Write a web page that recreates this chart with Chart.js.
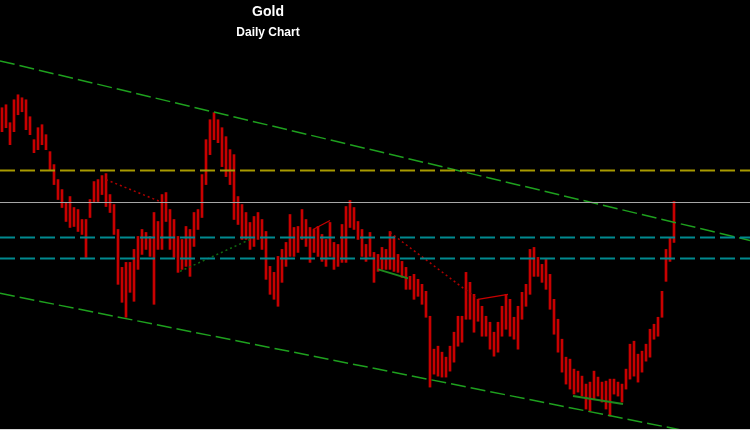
<!DOCTYPE html>
<html>
<head>
<meta charset="utf-8">
<script src="https://cdn.jsdelivr.net/npm/chart.js@4.4.1/dist/chart.umd.min.js"></script>
<style>
  html, body { margin: 0; padding: 0; background: #d9d9d9; }
  .wrap { position: relative; width: 750px; height: 429px; background: #000; }
  .title {
    position: absolute; left: 0; width: 536px; text-align: center;
    color: #fff; font-family: "Liberation Sans", Arial, sans-serif; font-weight: bold;
  }
  #t1 { top: 3px; font-size: 14px; }
  #t2 { top: 25px; font-size: 12px; }
</style>
</head>
<body>
<div class="wrap">
  <canvas id="chart" width="750" height="429"></canvas>
  <div class="title" id="t1">Gold</div>
  <div class="title" id="t2">Daily Chart</div>
</div>
<script>
// daily high / low per session
const highs = [
  1422, 1425, 1407, 1430, 1435, 1432, 1430, 1413, 1390, 1402,
  1405, 1395, 1378, 1365, 1350, 1340, 1327, 1333, 1322, 1320,
  1310, 1310, 1330, 1348, 1350, 1354, 1356, 1335, 1325, 1300,
  1262, 1267, 1267, 1280, 1293, 1300, 1297, 1293, 1317, 1308,
  1335, 1337, 1320, 1310, 1293, 1290, 1303, 1300, 1317, 1320,
  1355, 1390, 1410, 1417, 1410, 1402, 1393, 1380, 1375, 1333,
  1325, 1317, 1307, 1313, 1317, 1310, 1298, 1263, 1257, 1273,
  1280, 1287, 1315, 1302, 1303, 1320, 1310, 1302, 1300, 1303,
  1295, 1290, 1307, 1287, 1285, 1305, 1323, 1329, 1322, 1308,
  1300, 1285, 1297, 1277, 1275, 1282, 1280, 1298, 1293, 1275,
  1268, 1262, 1253, 1255, 1250, 1245, 1238, 1213, 1180, 1183,
  1177, 1172, 1183, 1197, 1213, 1213, 1257, 1247, 1235, 1230,
  1223, 1213, 1207, 1197, 1207, 1223, 1235, 1230, 1212, 1223,
  1237, 1245, 1280, 1282, 1272, 1265, 1270, 1255, 1230, 1210,
  1190, 1172, 1170, 1160, 1158, 1153, 1145, 1147, 1158, 1152,
  1147, 1148, 1150, 1150, 1147, 1145, 1160, 1185, 1188, 1175,
  1178, 1185, 1200, 1205, 1212, 1238, 1280, 1292, 1328,
];
const lows = [
  1398, 1402, 1385, 1398, 1415, 1418, 1400, 1395, 1377, 1380,
  1385, 1380, 1360, 1345, 1330, 1322, 1308, 1302, 1303, 1298,
  1295, 1272, 1312, 1327, 1328, 1335, 1323, 1317, 1295, 1245,
  1227, 1212, 1237, 1228, 1260, 1275, 1280, 1273, 1225, 1280,
  1280, 1308, 1280, 1272, 1257, 1260, 1263, 1253, 1283, 1300,
  1312, 1345, 1375, 1390, 1387, 1363, 1353, 1345, 1310, 1305,
  1290, 1290, 1280, 1283, 1290, 1280, 1250, 1235, 1230, 1223,
  1247, 1263, 1273, 1273, 1277, 1290, 1283, 1267, 1277, 1273,
  1268, 1263, 1273, 1260, 1263, 1267, 1267, 1302, 1300, 1290,
  1273, 1268, 1273, 1247, 1258, 1260, 1260, 1260, 1258, 1257,
  1252, 1240, 1240, 1230, 1233, 1225, 1212, 1142, 1155, 1153,
  1152, 1152, 1158, 1167, 1183, 1187, 1210, 1210, 1197, 1208,
  1193, 1193, 1180, 1173, 1177, 1193, 1200, 1193, 1190, 1180,
  1210, 1223, 1235, 1253, 1253, 1247, 1240, 1220, 1195, 1177,
  1157, 1145, 1140, 1135, 1137, 1133, 1120, 1118, 1130, 1133,
  1127, 1120, 1113, 1135, 1133, 1127, 1140, 1150, 1153, 1147,
  1157, 1168, 1172, 1190, 1193, 1212, 1248, 1268, 1287,
];

// horizontal price levels
const resistance = 1359;
const lastHigh = 1327;
const supports = [1292, 1271];

// drawn lines: [startDay, startPrice, endDay, endPrice]
const channelTop = [-0.5, 1469, 187, 1289];
const channelBottom = [-0.5, 1236, 176, 1094];
const redDotted = [[26, 1350, 39.5, 1328], [97, 1297, 119, 1230]];
const redSolid = [[77.75, 1300, 82, 1309], [119, 1230, 126.5, 1235]];
const greenDotted = [[44.5, 1258, 62, 1290]];
const greenSolid = [[94, 1260, 101.5, 1251], [142.75, 1133, 155.25, 1125]];

const X_MIN = -0.5;
const X_MAX = 187;

function segment(points, color, dash, width) {
  return {
    type: "line",
    data: [{ x: points[0], y: points[1] }, { x: points[2], y: points[3] }],
    borderColor: color,
    borderWidth: width,
    borderDash: dash,
    pointRadius: 0,
    order: 1,
  };
}

function level(price, color, dash, width) {
  return segment([X_MIN, price, X_MAX, price], color, dash, width);
}

const bars = highs.map((high, i) => ({ x: i, y: [lows[i], high] }));

const datasets = [
  {
    type: "bar",
    data: bars,
    backgroundColor: "#c80000",
    barThickness: 2,
    order: 2,
  },
  level(resistance, "#a89a00", [15, 5], 2),
  level(lastHigh, "#a8a8a8", [], 1),
  ...supports.map((p) => level(p, "#008a8f", [15, 5], 2)),
  segment(channelTop, "#1ea01e", [15, 5], 1.5),
  segment(channelBottom, "#1ea01e", [15, 5], 1.5),
  ...redDotted.map((s) => segment(s, "#b00000", [2, 3], 1.5)),
  ...redSolid.map((s) => segment(s, "#c80000", [], 1.2)),
  ...greenDotted.map((s) => segment(s, "#0f6a0f", [2, 3], 1.5)),
  ...greenSolid.map((s) => segment(s, "#1e8a1e", [], 2)),
];

new Chart(document.getElementById("chart"), {
  type: "bar",
  data: { datasets },
  options: {
    responsive: false,
    animation: false,
    layout: { padding: 0 },
    plugins: { legend: { display: false }, tooltip: { enabled: false } },
    scales: {
      x: { type: "linear", min: X_MIN, max: X_MAX, offset: false, display: false },
      y: { min: 1100, max: 1530, display: false },
    },
  },
});
</script>
</body>
</html>
